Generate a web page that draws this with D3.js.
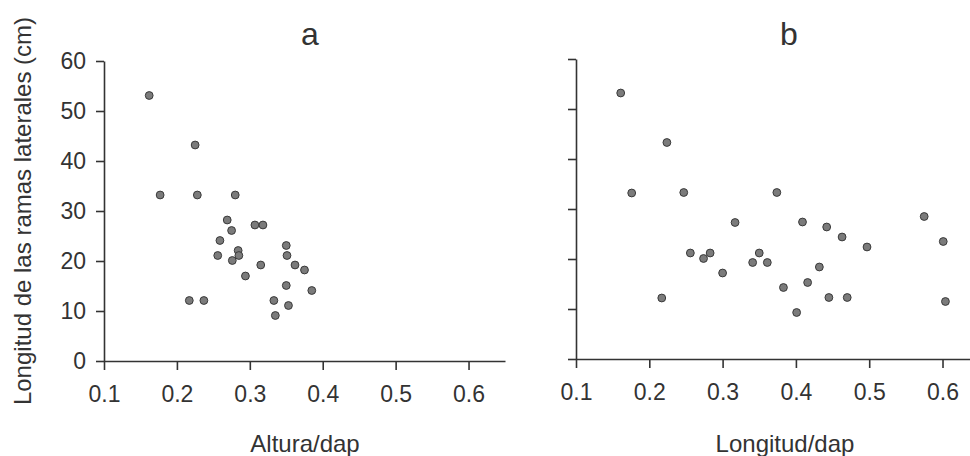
<!DOCTYPE html>
<html>
<head>
<meta charset="utf-8">
<script src="https://cdn.jsdelivr.net/npm/d3@7"></script>
<style>
  body { margin: 0; background: #fff; }
  text { font-family: "Liberation Sans", Arial, sans-serif; fill: #333; }
</style>
</head>
<body>
<div id="chart-area"></div>
<script>
// Panel a: Altura/dap vs longitud de ramas
var alturaDap = [0.162, 0.225, 0.177, 0.228, 0.280, 0.269, 0.275, 0.307, 0.318, 0.259,
  0.256, 0.284, 0.285, 0.276, 0.315, 0.294, 0.350, 0.351, 0.362, 0.375,
  0.350, 0.385, 0.217, 0.237, 0.333, 0.353, 0.335];
var ramasA = [53.1, 43.2, 33.2, 33.2, 33.2, 28.2, 26.1, 27.2, 27.2, 24.1,
  21.1, 22.1, 21.1, 20.1, 19.2, 17.0, 23.1, 21.1, 19.2, 18.2,
  15.1, 14.1, 12.1, 12.1, 12.1, 11.1, 9.1];

// Panel b: Longitud/dap vs longitud de ramas
var longitudDap = [0.161, 0.224, 0.176, 0.247, 0.374, 0.575, 0.317, 0.409, 0.442, 0.463,
  0.601, 0.497, 0.256, 0.283, 0.274, 0.350, 0.341, 0.361, 0.300, 0.432,
  0.383, 0.416, 0.217, 0.445, 0.470, 0.604, 0.401];
var ramasB = [53.2, 43.3, 33.2, 33.3, 33.3, 28.5, 27.3, 27.4, 26.4, 24.4,
  23.5, 22.4, 21.2, 21.2, 20.1, 21.2, 19.3, 19.3, 17.2, 18.4,
  14.3, 15.3, 12.2, 12.3, 12.3, 11.5, 9.3];

var xTicks = [0.1, 0.2, 0.3, 0.4, 0.5, 0.6];
var yTicks = [0, 10, 20, 30, 40, 50, 60];

var width = 970;
var height = 456;

var svg = d3.select("#chart-area")
  .append("svg")
  .attr("width", width)
  .attr("height", height);

function drawPanel(opts) {
  var g = svg.append("g");

  // scales
  var x = d3.scaleLinear()
    .domain([0.1, opts.xMax])
    .range([opts.left, opts.right]);

  var y = d3.scaleLinear()
    .domain([0, 60])
    .range([opts.bottom, opts.top]);

  // bottom axis
  var xAxis = d3.axisBottom(x)
    .tickValues(xTicks)
    .tickSize(9)
    .tickSizeOuter(0)
    .tickPadding(16)
    .tickFormat(d3.format(".1f"));

  var gx = g.append("g")
    .attr("transform", "translate(0," + opts.bottom + ")")
    .call(xAxis);

  // left axis
  var yAxis = d3.axisLeft(y)
    .tickValues(yTicks)
    .tickSize(8)
    .tickSizeOuter(0)
    .tickPadding(10)
    .tickFormat(opts.yLabels ? d3.format("d") : "");

  var gy = g.append("g")
    .attr("transform", "translate(" + opts.left + ",0)")
    .call(yAxis);

  [gx, gy].forEach(function(a) {
    a.selectAll("path, line")
      .attr("stroke", "#333")
      .attr("stroke-width", 1.6);
    a.selectAll("text")
      .attr("font-size", "23px")
      .attr("fill", "#333")
      .attr("font-family", "'Liberation Sans', Arial, sans-serif");
  });

  // points
  g.selectAll("circle")
    .data(opts.xs)
    .enter()
    .append("circle")
    .attr("cx", function(d) { return x(d); })
    .attr("cy", function(d, i) { return y(opts.ys[i]); })
    .attr("r", 3.9)
    .attr("fill", "#7b7b7b")
    .attr("stroke", "#3a3a3a")
    .attr("stroke-width", 1);

  // panel letter
  g.append("text")
    .attr("x", opts.letterX)
    .attr("y", 45)
    .attr("text-anchor", "middle")
    .attr("font-size", "32px")
    .text(opts.letter);

  // x label
  g.append("text")
    .attr("x", opts.labelX)
    .attr("y", 452)
    .attr("text-anchor", "middle")
    .attr("font-size", "24px")
    .text(opts.xLabel);
}

drawPanel({
  xs: alturaDap, ys: ramasA,
  left: 104, right: 505, xMax: 0.65,
  top: 61, bottom: 361,
  yLabels: true,
  letter: "a", letterX: 310,
  xLabel: "Altura/dap", labelX: 305
});

drawPanel({
  xs: longitudDap, ys: ramasB,
  left: 576, right: 970, xMax: 0.6375,
  top: 59, bottom: 359,
  yLabels: false,
  letter: "b", letterX: 789,
  xLabel: "Longitud/dap", labelX: 785
});

// Y label
svg.append("text")
  .attr("transform", "translate(31,211) rotate(-90)")
  .attr("text-anchor", "middle")
  .attr("font-size", "24px")
  .text("Longitud de las ramas laterales (cm)");
</script>
</body>
</html>
